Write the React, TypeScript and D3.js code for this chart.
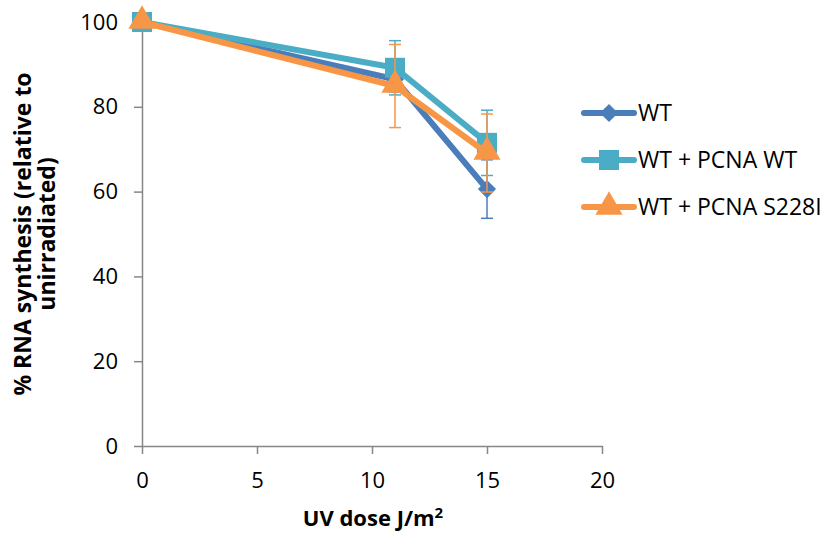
import { useRef, useEffect } from "react";
import * as d3 from "d3";

const doses = [0, 11, 15];
const seriesNames = ["WT", "WT + PCNA WT", "WT + PCNA S228I"];
const wtValues = [100, 86.5, 60.6];
const pcnaWtValues = [100, 89.2, 71.5];
const s228iValues = [100, 84.9, 69.1];
const wtErrors = [0, 3, 6.9];
const pcnaWtErrors = [0, 6.4, 7.7];
const s228iErrors = [0, 9.8, 9.2];
const xTicks = [0, 5, 10, 15, 20];
const yTicks = [0, 20, 40, 60, 80, 100];

export default function App() {
  const svgRef = useRef<SVGSVGElement>(null);

  useEffect(() => {
    const width = 830;
    const height = 533;
    const MARGIN = { top: 22, left: 142, right: 228, bottom: 87 };

    const svg = d3.select(svgRef.current);
    svg.selectAll("*").remove();
    svg.attr("width", width).attr("height", height);

    const x = d3.scaleLinear().domain([0, 20]).range([MARGIN.left, width - MARGIN.right]);
    const y = d3.scaleLinear().domain([0, 100]).range([height - MARGIN.bottom, MARGIN.top]);

    const font = "'Open Sans', sans-serif";
    const axisColor = "#868686";

    // axes
    const xAxis = svg.append("g")
      .attr("transform", `translate(0,${y(0)})`)
      .call(d3.axisBottom(x).tickValues(xTicks).tickSize(8).tickSizeOuter(0).tickPadding(18));
    const yAxis = svg.append("g")
      .attr("transform", `translate(${x(0)},0)`)
      .call(d3.axisLeft(y).tickValues(yTicks).tickSize(8).tickSizeOuter(0).tickPadding(16));

    [xAxis, yAxis].forEach(a => {
      a.select(".domain").attr("stroke", axisColor).attr("stroke-width", 1.5);
      a.selectAll(".tick line").attr("stroke", axisColor).attr("stroke-width", 1.5);
      a.selectAll(".tick text")
        .attr("fill", "#000")
        .style("font-family", font)
        .style("font-size", "22px");
    });

    const series = [
      { name: seriesNames[0], values: wtValues, errors: wtErrors, color: "#4a7ebb", marker: "diamond" },
      { name: seriesNames[1], values: pcnaWtValues, errors: pcnaWtErrors, color: "#4bacc6", marker: "square" },
      { name: seriesNames[2], values: s228iValues, errors: s228iErrors, color: "#f79646", marker: "triangle" },
    ];

    const markerPath = (m: string) => {
      if (m === "diamond") return d3.symbol(d3.symbolDiamond2, 210)();
      if (m === "square") return d3.symbol(d3.symbolSquare, 400)();
      return d3.symbol(d3.symbolTriangle, 320)();
    };

    const line = d3.line<number>()
      .x((_, i) => x(doses[i]))
      .y(d => y(d));

    series.forEach(s => {
      const g = svg.append("g");
      // error bars
      s.values.forEach((v, i) => {
        if (!s.errors[i]) return;
        const cx = x(doses[i]);
        const y1 = y(v + s.errors[i]);
        const y2 = y(v - s.errors[i]);
        g.append("line").attr("x1", cx).attr("x2", cx).attr("y1", y1).attr("y2", y2)
          .attr("stroke", s.color).attr("stroke-width", 1.5);
        [y1, y2].forEach(yy => {
          g.append("line").attr("x1", cx - 6).attr("x2", cx + 6).attr("y1", yy).attr("y2", yy)
            .attr("stroke", s.color).attr("stroke-width", 1.5);
        });
      });
      g.append("path")
        .attr("d", line(s.values))
        .attr("fill", "none")
        .attr("stroke", s.color)
        .attr("stroke-width", 6)
        .attr("stroke-linejoin", "round")
        .attr("stroke-linecap", "round");
      s.values.forEach((v, i) => {
        g.append("path")
          .attr("d", markerPath(s.marker))
          .attr("transform", `translate(${x(doses[i])},${y(v) + (s.marker === "triangle" ? -1 : 0)})`)
          .attr("fill", s.color);
      });
    });

    // legend
    const legend = svg.append("g");
    series.forEach((s, i) => {
      const ly = 113 + i * 47;
      legend.append("line")
        .attr("x1", 584).attr("x2", 634).attr("y1", ly).attr("y2", ly)
        .attr("stroke", s.color).attr("stroke-width", 6).attr("stroke-linecap", "round");
      legend.append("path")
        .attr("d", markerPath(s.marker))
        .attr("transform", `translate(609,${ly})`)
        .attr("fill", s.color);
      legend.append("text")
        .attr("x", 638).attr("y", ly)
        .attr("dy", "0.36em")
        .style("font-family", font)
        .style("font-size", "23px")
        .text(s.name);
    });

    // axis titles
    const xTitle = svg.append("text")
      .attr("x", (x(0) + x(20)) / 2 + 1)
      .attr("y", 526)
      .attr("text-anchor", "middle")
      .style("font-family", font)
      .style("font-size", "22px")
      .style("font-weight", "bold");
    xTitle.append("tspan").text("UV dose J/m");
    xTitle.append("tspan").text("2").attr("dy", -8).style("font-size", "15px");

    const yTitle = svg.append("text")
      .attr("transform", `translate(0,${(y(0) + y(100)) / 2}) rotate(-90)`)
      .attr("text-anchor", "middle")
      .style("font-family", font)
      .style("font-size", "23px")
      .style("font-weight", "bold");
    yTitle.append("tspan").attr("x", 0).attr("y", 31).text("% RNA synthesis (relative to");
    yTitle.append("tspan").attr("x", 0).attr("y", 55).text("unirradiated)");
  }, []);

  return (
    <div style={{ position: "absolute", left: 0, top: 0 }}>
      <svg ref={svgRef}></svg>
    </div>
  );
}
